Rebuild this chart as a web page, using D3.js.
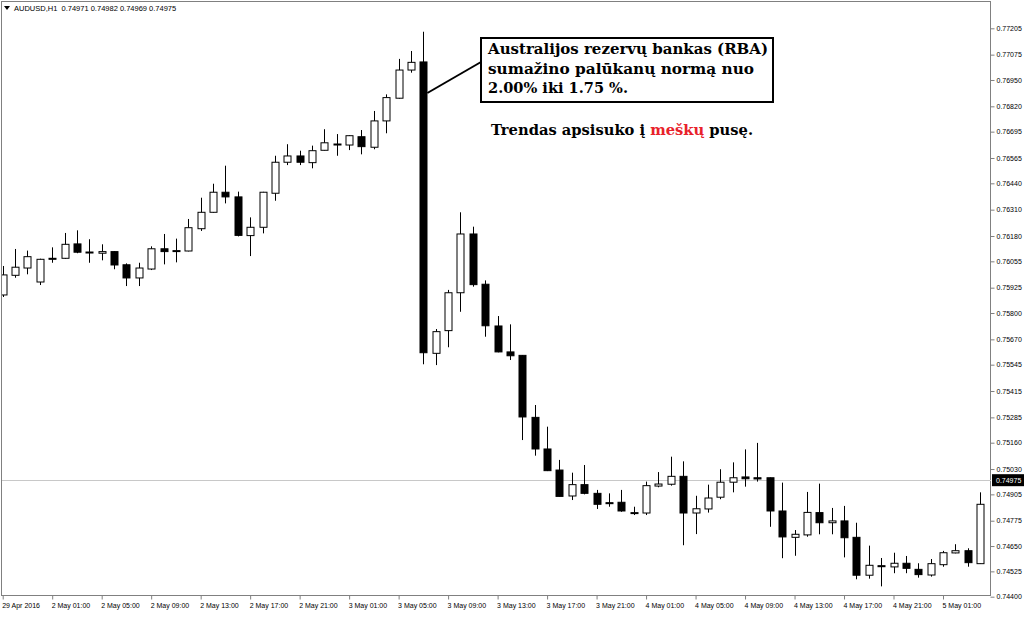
<!DOCTYPE html>
<html lang="lt">
    <head>
        <meta charset="utf-8">
        <title>AUDUSD H1</title>
        <script src="https://d3js.org/d3.v7.min.js"></script>
        <style>
            body { margin: 0; background: white; }
            .axis text { font-family: "Liberation Sans", Arial, sans-serif; font-size: 7px; fill: #000; }
            .axis path, .axis line { stroke: #808080; }
            .note { font-family: "DejaVu Serif", Georgia, serif; font-weight: bold; font-size: 15px; }
        </style>
    </head>
    <body>
        <script type="text/javascript">

            var width = 1024, height = 617;

            // OHLC of AUDUSD H1 (bar 0 = 29 Apr 2016 21:00)
            var open = [0.75889,0.75986,0.76022,0.75953,0.76070,0.76070,0.76141,0.76101,0.76095,0.76103,
                        0.76038,0.75973,0.76017,0.76117,0.76105,0.76106,0.76216,0.76297,0.76396,0.76373,
                        0.76182,0.76223,0.76391,0.76544,0.76575,0.76542,0.76603,0.76634,0.76629,0.76670,
                        0.76618,0.76748,0.76860,0.76999,0.77039,0.75601,0.75713,0.75900,0.76190,0.75942,
                        0.75736,0.75608,0.75591,0.75285,0.75129,0.75025,0.74897,0.74953,0.74910,0.74864,
                        0.74866,0.74812,0.74813,0.74946,0.74955,0.74994,0.74813,0.74833,0.74891,0.74965,
                        0.74991,0.74987,0.74987,0.74823,0.74693,0.74705,0.74815,0.74765,0.74774,0.74693,
                        0.74506,0.74553,0.74547,0.74565,0.74535,0.74507,0.74558,0.74616,0.74627,0.74563];
            var high = [0.76032,0.76116,0.76108,0.76068,0.76124,0.76195,0.76208,0.76164,0.76139,0.76105,
                        0.76045,0.76048,0.76129,0.76190,0.76167,0.76264,0.76369,0.76438,0.76527,0.76399,
                        0.76272,0.76398,0.76576,0.76633,0.76601,0.76626,0.76707,0.76683,0.76677,0.76703,
                        0.76797,0.76879,0.77054,0.77093,0.77188,0.75721,0.75914,0.76297,0.76226,0.75961,
                        0.75785,0.75744,0.75592,0.75346,0.75239,0.75075,0.75012,0.75050,0.74927,0.74910,
                        0.74927,0.74844,0.74968,0.75015,0.75091,0.75068,0.74898,0.74953,0.75029,0.75063,
                        0.75127,0.75159,0.74988,0.74963,0.74729,0.74917,0.74958,0.74838,0.74848,0.74765,
                        0.74652,0.74591,0.74617,0.74601,0.74565,0.74586,0.74626,0.74659,0.74639,0.74915];
            var low = [0.75879,0.75974,0.75991,0.75938,0.76048,0.76067,0.76095,0.76048,0.76060,0.76016,
                       0.75933,0.75933,0.76012,0.76040,0.76050,0.76104,0.76205,0.76295,0.76341,0.76178,
                       0.76081,0.76193,0.76354,0.76530,0.76530,0.76514,0.76602,0.76576,0.76604,0.76583,
                       0.76608,0.76687,0.76858,0.76986,0.75547,0.75543,0.75631,0.75806,0.75930,0.75683,
                       0.75606,0.75568,0.75173,0.75096,0.75020,0.74894,0.74877,0.74905,0.74833,0.74844,
                       0.74819,0.74803,0.74803,0.74940,0.74948,0.74654,0.74709,0.74815,0.74881,0.74915,
                       0.74943,0.74968,0.74745,0.74590,0.74602,0.74696,0.74708,0.74708,0.74594,0.74486,
                       0.74489,0.74451,0.74516,0.74516,0.74494,0.74499,0.74548,0.74614,0.74548,0.74562];
            var close = [0.75988,0.76026,0.76078,0.76065,0.76066,0.76139,0.76100,0.76098,0.76103,0.76037,
                         0.75973,0.76022,0.76117,0.76103,0.76108,0.76221,0.76297,0.76396,0.76373,0.76183,
                         0.76223,0.76396,0.76544,0.76575,0.76544,0.76601,0.76640,0.76631,0.76675,0.76621,
                         0.76748,0.76863,0.76999,0.77037,0.75604,0.75708,0.75900,0.76190,0.75940,0.75737,
                         0.75608,0.75589,0.75287,0.75129,0.75022,0.74895,0.74953,0.74910,0.74856,0.74861,
                         0.74823,0.74815,0.74948,0.74956,0.74994,0.74813,0.74834,0.74887,0.74965,0.74987,
                         0.74982,0.74981,0.74823,0.74695,0.74708,0.74816,0.74765,0.74774,0.74691,0.74506,
                         0.74555,0.74550,0.74565,0.74540,0.74509,0.74563,0.74617,0.74627,0.74568,0.74856];

            // axis labels as the terminal prints them
            var priceTicks = [0.77205,0.77075,0.76950,0.76820,0.76695,0.76565,0.76440,0.76310,0.76180,0.76055,
                              0.75925,0.75800,0.75670,0.75545,0.75415,0.75285,0.75160,0.75030,0.74905,0.74775,
                              0.74650,0.74525,0.74400];
            var timeTickBars = [0,4,8,12,16,20,24,28,32,36,40,44,48,52,56,60,64,68,72,76];
            var timeTickLabels = ["29 Apr 2016","2 May 01:00","2 May 05:00","2 May 09:00","2 May 13:00",
                                  "2 May 17:00","2 May 21:00","3 May 01:00","3 May 05:00","3 May 09:00",
                                  "3 May 13:00","3 May 17:00","3 May 21:00","4 May 01:00","4 May 05:00",
                                  "4 May 09:00","4 May 13:00","4 May 17:00","4 May 21:00","5 May 01:00"];
            var lastPrice = 0.74975;
            var header = ["AUDUSD,H1", "0.74971", "0.74982", "0.74969", "0.74975"];

            var plot = { left: 2, top: 2, right: 991, bottom: 596 };

            var svg = d3.select("body").append("svg")
                .attr("width", width)
                .attr("height", height);

            var xScale = d3.scaleLinear()
                .domain([0, 76])
                .range([2.7, 943]);

            var yScale = d3.scaleLinear()
                .domain([0.74400, 0.77205])
                .range([596.7, 28.3]);

            svg.append("clipPath").attr("id", "plotclip")
                .append("rect")
                .attr("x", plot.left).attr("y", plot.top)
                .attr("width", plot.right - plot.left)
                .attr("height", plot.bottom - plot.top);

            // frame
            svg.append("rect")
                .attr("x", plot.left - 0.5).attr("y", plot.top - 0.5)
                .attr("width", plot.right - plot.left)
                .attr("height", plot.bottom - plot.top)
                .attr("fill", "none")
                .attr("stroke", "#808080");

            // price line
            svg.append("line")
                .attr("x1", plot.left).attr("x2", plot.right)
                .attr("y1", Math.round(yScale(lastPrice)) + 0.5)
                .attr("y2", Math.round(yScale(lastPrice)) + 0.5)
                .attr("stroke", "#c8c8c8");

            var bars = d3.range(open.length).map(function(i) {
                return { i: i, o: open[i], h: high[i], l: low[i], c: close[i] };
            });

            var g = svg.append("g").attr("clip-path", "url(#plotclip)");
            var halfBody = 3.5;

            var candle = g.selectAll("g.candle")
                .data(bars)
                .enter().append("g")
                .attr("class", "candle");

            candle.append("line")
                .attr("x1", d => Math.round(xScale(d.i)) + 0.5)
                .attr("x2", d => Math.round(xScale(d.i)) + 0.5)
                .attr("y1", d => yScale(d.h))
                .attr("y2", d => yScale(d.l))
                .attr("stroke", "#000");

            candle.append("rect")
                .attr("x", d => Math.round(xScale(d.i)) + 0.5 - halfBody)
                .attr("y", d => yScale(Math.max(d.o, d.c)))
                .attr("width", halfBody * 2)
                .attr("height", d => Math.max(1, yScale(Math.min(d.o, d.c)) - yScale(Math.max(d.o, d.c))))
                .attr("fill", d => d.c >= d.o ? "#fff" : "#000")
                .attr("stroke", "#000")
                .attr("stroke-width", 1);

            // right price axis
            var yAxis = d3.axisRight(yScale)
                .tickValues(priceTicks)
                .tickFormat(d3.format(".5f"))
                .tickSize(4)
                .tickSizeOuter(0);

            var yg = svg.append("g")
                .attr("class", "axis")
                .attr("transform", "translate(" + (plot.right - 0.5) + ",0)")
                .call(yAxis);
            yg.select(".domain").remove();
            yg.selectAll("text").attr("x", 6);

            // last price tag
            var tag = svg.append("g")
                .attr("transform", "translate(992," + yScale(lastPrice) + ")");
            tag.append("rect")
                .attr("x", 0).attr("y", -6)
                .attr("width", 32).attr("height", 12)
                .attr("fill", "#000");
            tag.append("text")
                .attr("x", 4).attr("y", 2.5)
                .attr("fill", "#fff")
                .style("font-family", "Liberation Sans, Arial, sans-serif")
                .style("font-size", "7px")
                .text(d3.format(".5f")(lastPrice));

            // bottom time axis
            var xAxis = d3.axisBottom(xScale)
                .tickValues(timeTickBars)
                .tickFormat(function(d, i) { return timeTickLabels[i]; })
                .tickSize(4)
                .tickSizeOuter(0);

            var xg = svg.append("g")
                .attr("class", "axis")
                .attr("transform", "translate(0," + (plot.bottom - 0.5) + ")")
                .call(xAxis);
            xg.select(".domain").remove();
            xg.selectAll("text")
                .attr("text-anchor", "start")
                .attr("x", -1)
                .attr("y", 8);

            // header
            svg.append("path")
                .attr("d", "M4,6 L10,6 L7,10 Z")
                .attr("fill", "#000");
            svg.append("text")
                .attr("x", 14).attr("y", 11)
                .style("font-family", "Liberation Sans, Arial, sans-serif")
                .style("font-size", "7.5px")
                .attr("xml:space", "preserve")
                .text(header[0] + "  " + header.slice(1).join(" "));

            // annotation
            var bigBar = 34;
            svg.append("line")
                .attr("x1", 481).attr("y1", 62)
                .attr("x2", xScale(bigBar) + 4).attr("y2", 93)
                .attr("stroke", "#000")
                .attr("stroke-width", 2);

            svg.append("rect")
                .attr("x", 481).attr("y", 38)
                .attr("width", 292).attr("height", 64)
                .attr("fill", "#fff")
                .attr("stroke", "#000")
                .attr("stroke-width", 2);

            var noteLines = [
                { text: "Australijos rezervų bankas (RBA)", y: 54, w: 280 },
                { text: "sumažino palūkanų normą nuo", y: 74, w: 266 },
                { text: "2.00% iki 1.75 %.", y: 93, w: 140 }
            ];
            svg.selectAll("text.note-box")
                .data(noteLines)
                .enter().append("text")
                .attr("class", "note note-box")
                .attr("x", 488)
                .attr("y", d => d.y)
                .attr("textLength", d => d.w)
                .attr("lengthAdjust", "spacingAndGlyphs")
                .text(d => d.text);

            var trend = svg.append("text")
                .attr("class", "note")
                .attr("x", 491)
                .attr("y", 135)
                .attr("textLength", 262)
                .attr("lengthAdjust", "spacingAndGlyphs");
            trend.append("tspan").text("Trendas apsisuko į ");
            trend.append("tspan").attr("fill", "#e8212b").text("meškų");
            trend.append("tspan").text(" pusę.");

        </script>
    </body>
</html>
